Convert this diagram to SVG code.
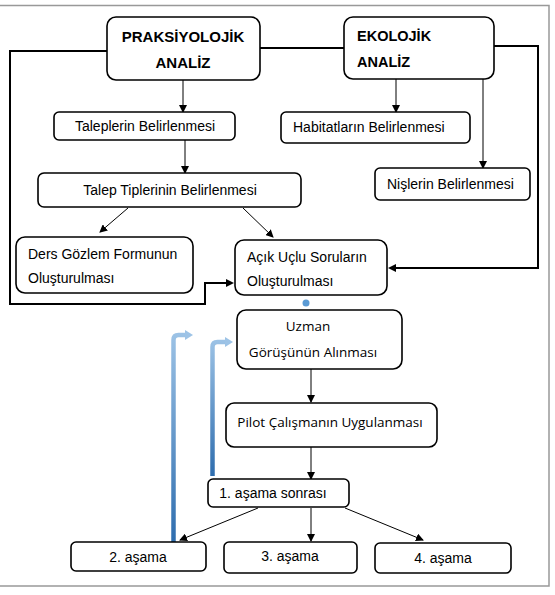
<svg xmlns="http://www.w3.org/2000/svg" width="555" height="595" viewBox="0 0 555 595">
<style>
.box{fill:#fff;stroke:#000;stroke-width:1.6}
.t{font-family:"Liberation Sans",Arial,sans-serif;font-size:14px;fill:#000}
.b{font-family:"Liberation Sans",Arial,sans-serif;font-size:15px;font-weight:bold;fill:#000}
.c{font-family:"Open Sans","Noto Sans",sans-serif;font-size:13.5px;fill:#000}
.ln{fill:none;stroke:#000;stroke-width:1}
.thick{fill:none;stroke:#000;stroke-width:2}
.frame{fill:none;stroke:#999;stroke-width:1.5}
</style>
<defs>
<marker id="ah" markerWidth="8" markerHeight="8" refX="7" refY="4" orient="auto" markerUnits="userSpaceOnUse">
<path d="M0,0 L8,4 L0,8 z" fill="#000"/>
</marker>
<linearGradient id="bg1" gradientUnits="userSpaceOnUse" x1="0" y1="332" x2="0" y2="542">
<stop offset="0" stop-color="#9DC3E6"/><stop offset="1" stop-color="#2E6DAE"/>
</linearGradient>
<linearGradient id="bg2" gradientUnits="userSpaceOnUse" x1="0" y1="339" x2="0" y2="476">
<stop offset="0" stop-color="#9DC3E6"/><stop offset="1" stop-color="#2E6DAE"/>
</linearGradient>
</defs>
<rect width="555" height="595" fill="#fff"/>
<path class="frame" d="M0,5.5 H549 V586 H0"/>

<g id="connectors">
<path class="thick" d="M107,51 H10 V304 H205 V283 H227" />
<path d="M226,279 L234,283 L226,287 z" fill="#000"/>
<path class="thick" d="M260,48 H344"/>
<path class="thick" d="M494,46 H538 V268 H395"/>
<path d="M396,264 L388,268 L396,272 z" fill="#000"/>
<line class="ln" x1="183" y1="80" x2="183" y2="112" marker-end="url(#ah)"/>
<line class="ln" x1="185" y1="140" x2="185" y2="173" marker-end="url(#ah)"/>
<line class="ln" x1="396" y1="79" x2="396" y2="112" marker-end="url(#ah)"/>
<line class="ln" x1="483" y1="79" x2="483" y2="168" marker-end="url(#ah)"/>
<line class="ln" x1="128" y1="208" x2="100" y2="232" marker-end="url(#ah)"/>
<line class="ln" x1="243" y1="208" x2="273" y2="237" marker-end="url(#ah)"/>
<circle cx="306" cy="303" r="3.5" fill="#5B9BD5"/>
<line class="ln" x1="311" y1="369" x2="311" y2="402" marker-end="url(#ah)"/>
<line class="ln" x1="311" y1="447" x2="311" y2="479" marker-end="url(#ah)"/>
<line class="ln" x1="258" y1="508" x2="180" y2="540" marker-end="url(#ah)"/>
<line class="ln" x1="311" y1="508" x2="311" y2="541" marker-end="url(#ah)"/>
<line class="ln" x1="345" y1="508" x2="423" y2="540" marker-end="url(#ah)"/>
<path d="M173.5,542 V340 Q173.5,335 178.5,335 H186" fill="none" stroke="url(#bg1)" stroke-width="4.5"/>
<path d="M185,330 L193,335 L185,340 z" fill="#9DC3E6"/>
<path d="M212.5,476 V347 Q212.5,342 217.5,342 H226" fill="none" stroke="url(#bg2)" stroke-width="4.5"/>
<path d="M225,337 L233,342 L225,347 z" fill="#9DC3E6"/>
</g>

<g id="praksiyolojik">
<rect class="box" x="107" y="17" width="153" height="63" rx="9"/>
<text class="b" x="183" y="42" text-anchor="middle">PRAKSİYOLOJİK</text>
<text class="b" x="183" y="68" text-anchor="middle">ANALİZ</text>
</g>
<g id="ekolojik">
<rect class="box" x="344" y="17" width="150" height="62" rx="9"/>
<text class="b" x="357" y="41" style="font-size:14.5px">EKOLOJİK</text>
<text class="b" x="357" y="67" style="font-size:14.5px">ANALİZ</text>
</g>
<g id="taleplerin">
<rect class="box" x="54" y="112" width="181" height="28" rx="5"/>
<text class="t" x="145" y="131" text-anchor="middle">Taleplerin Belirlenmesi</text>
</g>
<g id="habitat">
<rect class="box" x="281" y="112" width="189" height="31" rx="5"/>
<text class="t" x="293" y="132">Habitatların Belirlenmesi</text>
</g>
<g id="talep-tipleri">
<rect class="box" x="38" y="173" width="263" height="34" rx="6"/>
<text class="t" x="170" y="195" text-anchor="middle">Talep Tiplerinin Belirlenmesi</text>
</g>
<g id="nisler">
<rect class="box" x="375" y="168" width="155" height="32" rx="5"/>
<text class="t" x="387" y="189">Nişlerin Belirlenmesi</text>
</g>
<g id="ders-gozlem">
<rect class="box" x="16" y="237" width="177" height="56" rx="9"/>
<text class="t" x="28" y="259">Ders Gözlem Formunun</text>
<text class="t" x="28" y="283">Oluşturulması</text>
</g>
<g id="acik-uclu">
<rect class="box" x="235" y="240" width="152" height="55" rx="9"/>
<text class="t" x="247" y="262">Açık Uçlu Soruların</text>
<text class="t" x="247" y="286">Oluşturulması</text>
</g>
<g id="uzman">
<rect class="box" x="237" y="310" width="165" height="59" rx="9"/>
<text class="c" x="308" y="331" text-anchor="middle">Uzman</text>
<text class="c" x="313" y="357" text-anchor="middle">Görüşünün Alınması</text>
</g>
<g id="pilot">
<rect class="box" x="226" y="403" width="211" height="44" rx="8"/>
<text class="c" x="330" y="427" text-anchor="middle">Pilot Çalışmanın Uygulanması</text>
</g>
<g id="asama1">
<rect class="box" x="208" y="479" width="141" height="28" rx="5"/>
<text class="t" x="273" y="498" text-anchor="middle">1. aşama sonrası</text>
</g>
<g id="asama2">
<rect class="box" x="71" y="542" width="135" height="29" rx="5"/>
<text class="t" x="138" y="562" text-anchor="middle">2. aşama</text>
</g>
<g id="asama3">
<rect class="box" x="224" y="542" width="133" height="31" rx="5"/>
<text class="t" x="290" y="561" text-anchor="middle">3. aşama</text>
</g>
<g id="asama4">
<rect class="box" x="375" y="543" width="136" height="30" rx="5"/>
<text class="t" x="443" y="563" text-anchor="middle">4. aşama</text>
</g>
</svg>
